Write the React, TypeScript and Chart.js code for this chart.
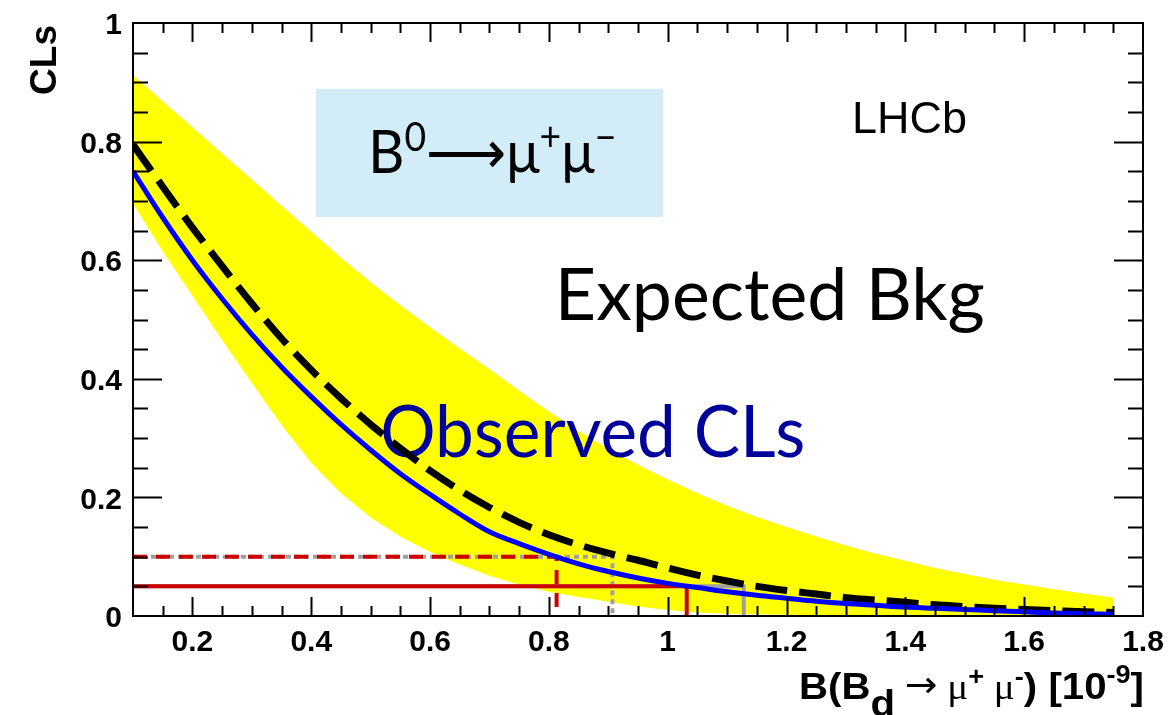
import React, { useEffect, useRef } from 'react';
import { Chart, registerables } from 'chart.js';

Chart.register(...registerables);

// ---- data ----
const xValues = [
  0.10, 0.15, 0.20, 0.25, 0.30, 0.35, 0.40, 0.45, 0.50, 0.55, 0.60, 0.65, 0.70, 0.75, 0.80, 0.85, 0.90,
  0.95, 1.00, 1.05, 1.10, 1.15, 1.20, 1.25, 1.30, 1.35, 1.40, 1.45, 1.50, 1.55, 1.60, 1.65, 1.70, 1.75,
];
const observedCLs = [
  0.750, 0.672, 0.600, 0.535, 0.475, 0.420, 0.370, 0.323, 0.280, 0.240, 0.205, 0.172, 0.142, 0.122, 0.104, 0.088, 0.075,
  0.064, 0.055, 0.048, 0.041, 0.035, 0.030, 0.025, 0.021, 0.018, 0.015, 0.013, 0.011, 0.009, 0.007, 0.005, 0.004, 0.003,
];
const expectedCLs = [
  0.795, 0.724, 0.655, 0.590, 0.527, 0.468, 0.415, 0.367, 0.323, 0.283, 0.245, 0.212, 0.183, 0.158, 0.137, 0.120, 0.106,
  0.094, 0.081, 0.069, 0.059, 0.050, 0.043, 0.037, 0.031, 0.027, 0.023, 0.019, 0.016, 0.013, 0.011, 0.009, 0.007, 0.006,
];
const bandUpper = [
  0.912, 0.868, 0.824, 0.780, 0.736, 0.692, 0.648, 0.604, 0.563, 0.524, 0.487, 0.451, 0.416, 0.380, 0.345, 0.312, 0.282,
  0.255, 0.230, 0.207, 0.186, 0.167, 0.150, 0.134, 0.119, 0.105, 0.093, 0.081, 0.071, 0.061, 0.053, 0.045, 0.038, 0.031,
];
const bandLower = [
  0.695, 0.615, 0.540, 0.465, 0.393, 0.322, 0.258, 0.207, 0.166, 0.134, 0.108, 0.087, 0.068, 0.053, 0.041, 0.032, 0.024,
  0.016, 0.010, 0.006, 0.004, 0.003, 0.002, 0.001, 0.001, 0.000, 0.000, 0.000, 0.000, 0.000, 0.000, 0.000, 0.000, 0.000,
];
const xTickLabels = ['0.2', '0.4', '0.6', '0.8', '1', '1.2', '1.4', '1.6', '1.8'];
const yTickLabels = ['0', '0.2', '0.4', '0.6', '0.8', '1'];
const clLevels = [0.1, 0.05]; // 90% and 95% CL
const observedLimits = [0.813, 1.032];
const expectedLimits = [0.907, 1.128];

const X_MIN = 0.1;
const X_MAX = 1.8;
const Y_MIN = 0;
const Y_MAX = 1;

const HELV = '"Liberation Sans", Arial, Helvetica, sans-serif';
const CMSS = 'Lato, "DejaVu Sans", sans-serif';

type Seg = { text: string; font: string; dy?: number };

function drawSegments(ctx: CanvasRenderingContext2D, segs: Seg[], x: number, y: number, targetWidth: number | null, color: string) {
  const widths: number[] = [];
  let total = 0;
  for (const s of segs) {
    ctx.font = s.font;
    const w = ctx.measureText(s.text).width;
    widths.push(w);
    total += w;
  }
  const sx = targetWidth ? targetWidth / total : 1;
  ctx.save();
  ctx.translate(x, y);
  ctx.scale(sx, 1);
  ctx.fillStyle = color;
  ctx.textAlign = 'left';
  ctx.textBaseline = 'alphabetic';
  let cx = 0;
  segs.forEach((s, i) => {
    ctx.font = s.font;
    ctx.fillText(s.text, cx, s.dy || 0);
    cx += widths[i];
  });
  ctx.restore();
}

function limitPath(level: number, limit: number) {
  return [
    { x: X_MIN, y: level },
    { x: limit, y: level },
    { x: limit, y: Y_MIN },
  ];
}

const rootStyle = {
  id: 'rootStyle',
  afterDatasetDraw(chart: any, args: any) {
    if (args.index !== 0) return;
    const ctx: CanvasRenderingContext2D = chart.ctx;
    const xs = chart.scales.x;
    const ys = chart.scales.y;
    drawSegments(ctx, [{ text: 'Observed CLs', font: `72px ${CMSS}` }], xs.getPixelForValue(0.516), ys.getPixelForValue(0.268), 425, '#00009a');
  },
  afterDraw(chart: any) {
    const ctx: CanvasRenderingContext2D = chart.ctx;
    const xs = chart.scales.x;
    const ys = chart.scales.y;
    const a = chart.chartArea;
    ctx.save();

    // frame
    ctx.strokeStyle = '#000';
    ctx.lineWidth = 2;
    ctx.strokeRect(a.left, a.top, a.right - a.left, a.bottom - a.top);

    // x ticks (bottom and top, pointing inward)
    ctx.lineWidth = 2;
    for (let k = 3; k <= 35; k++) {
      const v = k * 0.05;
      if (v <= X_MIN + 1e-9 || v >= X_MAX - 1e-9) continue;
      const major = k % 4 === 0;
      const len = major ? 19 : 10;
      const px = Math.round(xs.getPixelForValue(v)) + 0.5;
      ctx.beginPath();
      ctx.moveTo(px, a.bottom);
      ctx.lineTo(px, a.bottom - len);
      ctx.moveTo(px, a.top);
      ctx.lineTo(px, a.top + len);
      ctx.stroke();
    }
    // y ticks (left and right)
    for (let k = 1; k < 20; k++) {
      const v = k * 0.05;
      const major = k % 4 === 0;
      const len = major ? 29 : 15;
      const py = Math.round(ys.getPixelForValue(v)) + 0.5;
      ctx.beginPath();
      ctx.moveTo(a.left, py);
      ctx.lineTo(a.left + len, py);
      ctx.moveTo(a.right, py);
      ctx.lineTo(a.right - len, py);
      ctx.stroke();
    }

    // tick labels
    ctx.fillStyle = '#000';
    ctx.font = `bold 30px ${HELV}`;
    ctx.textAlign = 'center';
    ctx.textBaseline = 'alphabetic';
    for (const t of xTickLabels) {
      ctx.fillText(t, xs.getPixelForValue(parseFloat(t)), a.bottom + 35);
    }
    ctx.textAlign = 'right';
    ctx.textBaseline = 'middle';
    for (const t of yTickLabels) {
      ctx.fillText(t, a.left - 11, ys.getPixelForValue(parseFloat(t)) + 3);
    }

    // y title
    ctx.save();
    ctx.translate(56, a.top + 2);
    ctx.rotate(-Math.PI / 2);
    ctx.font = `bold 37px ${HELV}`;
    ctx.textAlign = 'right';
    ctx.textBaseline = 'alphabetic';
    ctx.fillText('CLs', 0, 0);
    ctx.restore();

    // x title
    const bold = `bold 37px ${HELV}`;
    const boldSmall = `bold 25px ${HELV}`;
    const sym = `36px "Liberation Serif", "DejaVu Serif", serif`;
    drawSegments(
      ctx,
      [
        { text: 'B(B', font: bold },
        { text: 'd', font: bold, dy: 17 },
        { text: ' ', font: sym },
        { text: '\u2192', font: `36px "DejaVu Sans", sans-serif`, dy: -2 },
        { text: ' \u03bc', font: sym },
        { text: '+', font: boldSmall, dy: -14 },
        { text: ' \u03bc', font: sym },
        { text: '-', font: boldSmall, dy: -14 },
        { text: ') [10', font: bold },
        { text: '-9', font: boldSmall, dy: -16 },
        { text: ']', font: bold },
      ],
      799,
      699,
      345,
      '#000'
    );

    // decay label box
    const bx0 = xs.getPixelForValue(0.408);
    const bx1 = xs.getPixelForValue(0.992);
    const by0 = ys.getPixelForValue(0.889);
    const by1 = ys.getPixelForValue(0.673);
    ctx.fillStyle = 'rgb(210,236,248)';
    ctx.fillRect(bx0, by0, bx1 - bx0, by1 - by0);
    const big = `60px ${CMSS}`;
    const sup = `40px ${CMSS}`;
    drawSegments(
      ctx,
      [
        { text: 'B', font: big },
        { text: '0', font: sup, dy: -22 },
        { text: '\u27f6', font: `60px "DejaVu Sans", sans-serif` },
        { text: '\u03bc', font: big },
        { text: '+', font: sup, dy: -22 },
        { text: '\u03bc', font: big },
        { text: '\u2212', font: sup, dy: -22 },
      ],
      xs.getPixelForValue(0.496),
      ys.getPixelForValue(0.747),
      248,
      '#000'
    );

    // LHCb
    ctx.fillStyle = '#000';
    ctx.font = `45px ${HELV}`;
    ctx.textAlign = 'left';
    ctx.textBaseline = 'alphabetic';
    ctx.fillText('LHCb', xs.getPixelForValue(1.31), ys.getPixelForValue(0.8145));

    // Expected Bkg
    drawSegments(ctx, [{ text: 'Expected Bkg', font: `72px ${CMSS}` }], xs.getPixelForValue(0.81), ys.getPixelForValue(0.499), 430, '#000');

    ctx.restore();
  },
};

export default function App() {
  const ref = useRef<HTMLCanvasElement | null>(null);
  useEffect(() => {
    if (!ref.current) return;
    const pts = (ys: number[]) => xValues.map((x, i) => ({ x, y: ys[i] }));
    const chart = new Chart(ref.current, {
      type: 'line',
      data: {
        datasets: [
          {
            label: 'Expected ±1σ',
            data: pts(bandUpper),
            fill: '+1',
            backgroundColor: '#ffff00',
            borderWidth: 0,
            borderColor: 'rgba(0,0,0,0)',
            pointRadius: 0,
            order: 10,
          },
          {
            label: 'band lower',
            data: pts(bandLower),
            fill: false,
            borderWidth: 0,
            borderColor: 'rgba(0,0,0,0)',
            pointRadius: 0,
            order: 9,
          },
          {
            label: 'expected 90%',
            data: limitPath(clLevels[0], expectedLimits[0]),
            borderColor: '#a0a0a0',
            borderWidth: 4,
            borderDash: [5, 4],
            pointRadius: 0,
            fill: false,
            order: 8,
          },
          {
            label: 'observed 90%',
            data: limitPath(clLevels[0], observedLimits[0]),
            borderColor: '#cc0000',
            borderWidth: 4,
            borderDash: [14, 9],
            pointRadius: 0,
            fill: false,
            order: 7,
          },
          {
            label: 'expected 95%',
            data: limitPath(clLevels[1], expectedLimits[1]),
            borderColor: '#a0a0a0',
            borderWidth: 4,
            pointRadius: 0,
            fill: false,
            order: 6,
          },
          {
            label: 'observed 95%',
            data: limitPath(clLevels[1], observedLimits[1]),
            borderColor: '#cc0000',
            borderWidth: 4,
            pointRadius: 0,
            fill: false,
            order: 5,
          },
          {
            label: 'Expected',
            data: pts(expectedCLs),
            borderColor: '#000000',
            borderWidth: 7,
            borderDash: [32, 12],
            borderCapStyle: 'butt',
            pointRadius: 0,
            fill: false,
            cubicInterpolationMode: 'monotone',
            order: 2,
          },
          {
            label: 'Observed',
            data: pts(observedCLs),
            borderColor: '#0000ff',
            borderWidth: 5,
            pointRadius: 0,
            fill: false,
            cubicInterpolationMode: 'monotone',
            order: 1,
          },
        ],
      },
      options: {
        responsive: false,
        maintainAspectRatio: false,
        animation: false,
        layout: { padding: { left: 133, top: 23, right: 25, bottom: 99 } },
        plugins: { legend: { display: false }, tooltip: { enabled: false } },
        scales: {
          x: { type: 'linear', min: X_MIN, max: X_MAX, display: false },
          y: { type: 'linear', min: Y_MIN, max: Y_MAX, display: false },
        },
      },
      plugins: [rootStyle],
    } as any);
    return () => chart.destroy();
  }, []);
  return (
    <div style={{ position: 'absolute', left: 0, top: 0, width: 1168, height: 715, background: '#fff' }}>
      <canvas ref={ref} width={1168} height={715} style={{ width: 1168, height: 715, display: 'block' }} />
    </div>
  );
}
